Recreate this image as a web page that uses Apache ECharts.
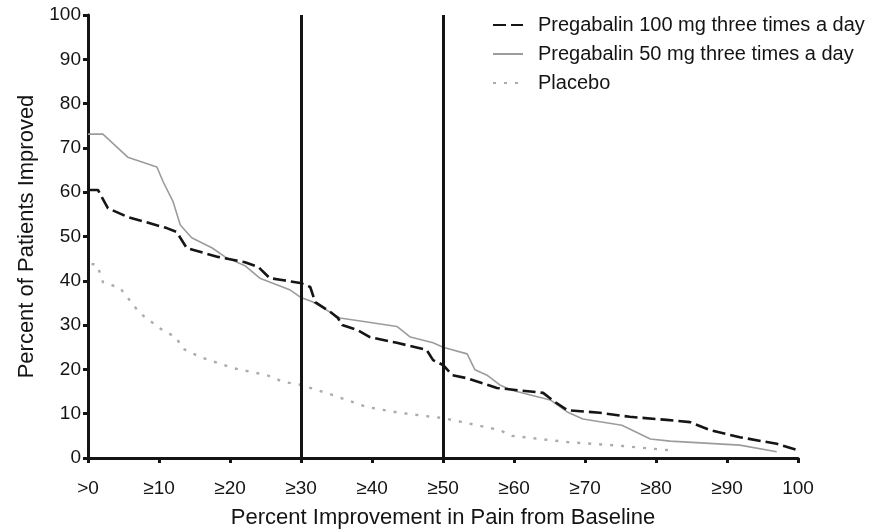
<!DOCTYPE html>
<html>
<head>
  <meta charset="utf-8">
  <title>Percent Improvement in Pain</title>
  <script src="https://cdn.jsdelivr.net/npm/echarts@6/dist/echarts.min.js"></script>
  <style>
    html, body { margin: 0; padding: 0; background: #fff; }
  </style>
</head>
<body>
<div id="main" style="width: 875px;height:531px;"></div>
<script type="text/javascript">
  // values
  var xTickLabels = ['>0', '\u226510', '\u226520', '\u226530', '\u226540', '\u226550',
                     '\u226560', '\u226570', '\u226580', '\u226590', '100'];
  var cutoffs = [30, 50];

  var p100X = [0, 1.4, 2.8, 5.6, 11.1, 12.5, 13.9, 18.3, 22.1, 24,
               25.6, 27.3, 29.9, 31.3, 32, 34.1, 35.2, 35.8, 37.9, 39.7,
               43.5, 47.7, 48.6, 50, 51.3, 53.4, 57.6, 64.1, 65.8, 67.5,
               72.1, 76.3, 81.5, 84.8, 87.6, 91.8, 97, 99.9];
  var p100Y = [60.5, 60.5, 56.4, 54.4, 51.9, 51, 47.4, 45.4, 44.2, 43.1,
               40.6, 40.2, 39.5, 38.6, 35.2, 33, 31.6, 30, 28.9, 27.3,
               26, 24.4, 22.1, 21, 18.7, 18, 15.8, 14.7, 12.6, 10.8,
               10.2, 9.3, 8.6, 8.1, 6.3, 4.7, 3.2, 1.8];

  var p50X = [0, 2.1, 5.6, 9.7, 10.6, 12, 13, 14.6, 17.5, 19.3,
              22.1, 24.2, 28.5, 29.9, 31.7, 35.5, 39.3, 43.5, 45.4, 48.6,
              50, 53.4, 54.5, 56.2, 58, 59.7, 65.1, 67.5, 69.7, 75.2,
              79.2, 82, 91.8, 97];
  var p50Y = [73.1, 73.1, 67.9, 65.7, 62.3, 57.8, 52.6, 49.7, 47.4, 45.4,
              43.4, 40.6, 37.9, 36.3, 35.2, 31.6, 30.7, 29.7, 27.3, 26,
              25, 23.5, 19.9, 18.7, 16.5, 15.3, 13.1, 10.4, 8.8, 7.4,
              4.3, 3.8, 2.9, 1.4];

  var placeboX = [0.5, 1.3, 2.1, 4.5, 7.3, 10.1, 12.5, 13.2, 15.8, 20.4,
                  25.2, 27.5, 30, 34.5, 39.3, 43.9, 50, 54.2, 58, 59.7,
                  67.5, 75.4, 81.5, 82.7];
  var placeboY = [43.8, 43.6, 39.7, 38.4, 32.7, 29.3, 27.1, 24.8, 22.8, 20.3,
                  18.7, 17.2, 16.5, 14.2, 11.5, 10.2, 9, 7.6, 6.3, 5,
                  3.6, 2.7, 1.8, 1.6];

  function zip(xs, ys) {
    return xs.map(function (x, i) { return [x, ys[i]]; });
  }

  var font = '"Liberation Sans", Arial, Helvetica, sans-serif';
  var ink = '#141414';

  var chartDom = document.getElementById('main');
  var myChart = echarts.init(chartDom);
  var option;

  option = {
    animation: false,
    backgroundColor: '#fff',
    textStyle: { fontFamily: font, color: ink },
    grid: { left: 88, right: 77, top: 15, bottom: 73, outerBoundsMode: 'none', containLabel: false },
    legend: {
      orient: 'vertical',
      left: 492,
      top: 15,
      padding: 0,
      itemWidth: 30,
      itemHeight: 14,
      itemGap: 9,
      itemStyle: { opacity: 0 },
      textStyle: { fontSize: 20, color: ink, fontFamily: font, padding: [0, 0, 0, 10] },
      data: ['Pregabalin 100 mg three times a day', 'Pregabalin 50 mg three times a day', 'Placebo']
    },
    xAxis: {
      type: 'value',
      min: 0,
      max: 100,
      interval: 10,
      name: 'Percent Improvement in Pain from Baseline',
      nameLocation: 'middle',
      nameGap: 49,
      nameTextStyle: { fontSize: 22, color: ink, fontFamily: font },
      axisLine: { show: true, onZero: false, lineStyle: { color: ink, width: 3 } },
      axisTick: { show: true, length: 5, lineStyle: { color: ink, width: 3 } },
      axisLabel: {
        fontSize: 19, color: ink, margin: 21, fontFamily: font,
        formatter: function (v) { return xTickLabels[Math.round(v / 10)]; }
      },
      splitLine: { show: false }
    },
    yAxis: {
      type: 'value',
      min: 0,
      max: 100,
      interval: 10,
      name: 'Percent of Patients Improved',
      nameLocation: 'middle',
      nameGap: 46,
      nameTextStyle: { fontSize: 22, color: ink, fontFamily: font },
      axisLine: { show: true, lineStyle: { color: ink, width: 3 } },
      axisTick: { show: true, length: 5, lineStyle: { color: ink, width: 3 } },
      axisLabel: { fontSize: 19, color: ink, margin: 7, fontFamily: font },
      splitLine: { show: false }
    },
    series: [
      {
        name: 'Pregabalin 100 mg three times a day',
        type: 'line',
        symbol: 'none',
        z: 4,
        data: zip(p100X, p100Y),
        lineStyle: { color: '#151515', width: 2.6, type: [13, 5] },
        itemStyle: { color: '#151515' },
        markLine: {
          silent: true,
          symbol: 'none',
          label: { show: false },
          lineStyle: { color: ink, width: 3, type: 'solid' },
          data: cutoffs.map(function (c) { return { xAxis: c }; })
        }
      },
      {
        name: 'Pregabalin 50 mg three times a day',
        type: 'line',
        symbol: 'none',
        z: 3,
        data: zip(p50X, p50Y),
        lineStyle: { color: '#9c9c9c', width: 1.6, type: 'solid' },
        itemStyle: { color: '#9c9c9c' }
      },
      {
        name: 'Placebo',
        type: 'line',
        symbol: 'none',
        z: 2,
        data: zip(placeboX, placeboY),
        lineStyle: { color: '#ababab', width: 2.4, type: [3, 8] },
        itemStyle: { color: '#ababab' }
      }
    ]
  };

  option && myChart.setOption(option);
</script>
</body>
</html>
